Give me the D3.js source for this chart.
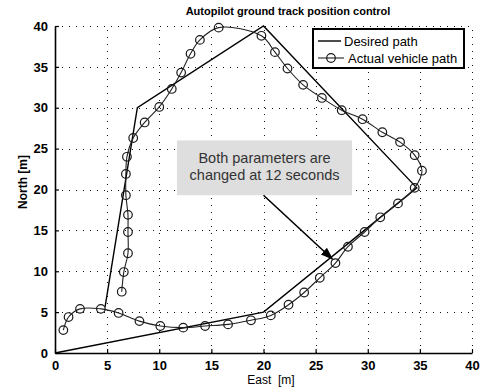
<!DOCTYPE html>
<html>
<head>
<meta charset="utf-8">
<script src="https://cdn.jsdelivr.net/npm/d3@7"></script>
<style>
  html, body { margin: 0; padding: 0; background: #fff; }
  svg { display: block; font-family: "Liberation Sans", Arial, sans-serif; }
</style>
</head>
<body>
<svg id="chart" width="491" height="388"></svg>
<script>
// ---- data ----
const titleText = "Autopilot ground track position control";
const xLabelText = "East  [m]";
const yLabelText = "North [m]";
const xTicks = [0, 5, 10, 15, 20, 25, 30, 35, 40];
const yTicks = [0, 5, 10, 15, 20, 25, 30, 35, 40];

const desiredEast  = [0, 20, 34.7, 20, 7.9, 4.8];
const desiredNorth = [0, 5, 20.2, 40, 30, 5.6];

const actualEast  = [0.8, 1.3, 2.4, 4.4, 6.1, 8.1, 10.1, 12.3, 14.4, 16.6, 18.8, 20.7, 22.4, 23.9, 25.4, 26.9,
                     28.1, 29.7, 31.2, 32.9, 34.5, 35.2, 34.5, 33.1, 31.4, 29.5, 27.5, 25.6, 23.8, 22.3, 21.1, 19.8,
                     15.7, 13.9, 13.0, 12.1, 11.2, 10.0, 8.6, 7.5, 6.9, 6.8, 6.8, 7.0, 7.0, 7.0, 6.6, 6.4];
const actualNorth = [2.8, 4.4, 5.4, 5.4, 4.9, 3.9, 3.3, 3.1, 3.3, 3.5, 4.0, 4.6, 5.9, 7.4, 9.2, 11.0,
                     13.0, 14.8, 16.6, 18.3, 20.2, 22.3, 24.2, 25.8, 27.0, 28.6, 29.7, 31.2, 32.8, 34.8, 36.8, 38.8,
                     39.8, 38.3, 36.6, 34.3, 32.3, 30.1, 28.2, 26.3, 24.0, 21.9, 19.3, 16.9, 14.8, 12.2, 9.9, 7.5];

const legendLabels = ["Desired path", "Actual vehicle path"];
const noteLines = ["Both parameters are", "changed at 12 seconds"];
const noteBox = [11.7, 28.5, 19.3, 26.0];   // east min, east max, north min, north max
const arrowFrom = [20.0, 19.3];
const arrowTo = [26.6, 11.5];

// ---- layout ----
const svg = d3.select("#chart");
const x = d3.scaleLinear().domain([0, 40]).range([55, 472]);
const y = d3.scaleLinear().domain([0, 40]).range([353, 26]);

// grid
const grid = svg.append("g").attr("stroke", "#111").attr("stroke-width", 1)
  .attr("stroke-dasharray", "1,6").attr("shape-rendering", "crispEdges");
grid.selectAll("line.v").data(xTicks.filter(d => d > 0)).join("line")
  .attr("x1", d => Math.round(x(d)) + 0.5).attr("x2", d => Math.round(x(d)) + 0.5)
  .attr("y1", y(0)).attr("y2", y(40));
grid.selectAll("line.h").data(yTicks.filter(d => d > 0)).join("line")
  .attr("y1", d => Math.round(y(d)) + 0.5).attr("y2", d => Math.round(y(d)) + 0.5)
  .attr("x1", x(0)).attr("x2", x(40));

// axes
const xAxis = d3.axisBottom(x).tickValues(xTicks).tickSizeInner(-4).tickSizeOuter(0).tickPadding(8);
const yAxis = d3.axisLeft(y).tickValues(yTicks).tickSizeInner(-4).tickSizeOuter(0).tickPadding(7);
const gx = svg.append("g").attr("transform", `translate(0,${y(0)})`).call(xAxis);
const gy = svg.append("g").attr("transform", `translate(${x(0)},0)`).call(yAxis);
[gx, gy].forEach(g => {
  g.select(".domain").attr("stroke", "#000").attr("stroke-width", 1.6);
  g.selectAll(".tick line").attr("stroke", "#000").attr("stroke-width", 1.2);
  g.selectAll(".tick text").attr("fill", "#000").attr("font-size", 13).attr("font-weight", "bold")
    .attr("font-family", "'Liberation Sans', Arial, sans-serif");
});

// desired path
const lineGen = d3.line().x(d => x(d[0])).y(d => y(d[1]));
const desired = desiredEast.map((e, i) => [e, desiredNorth[i]]);
svg.append("path").datum(desired).attr("d", lineGen)
  .attr("fill", "none").attr("stroke", "#000").attr("stroke-width", 1.4);

// actual path
const actual = actualEast.map((e, i) => [e, actualNorth[i]]);
svg.append("path").datum(actual).attr("d", d3.line().x(d => x(d[0])).y(d => y(d[1])).curve(d3.curveCatmullRom.alpha(0.5)))
  .attr("fill", "none").attr("stroke", "#222").attr("stroke-width", 1.1);
svg.append("g").selectAll("circle").data(actual).join("circle")
  .attr("cx", d => x(d[0])).attr("cy", d => y(d[1])).attr("r", 4.3)
  .attr("fill", "none").attr("stroke", "#1a1a1a").attr("stroke-width", 1.2);

// annotation box
svg.append("rect")
  .attr("x", x(noteBox[0])).attr("y", y(noteBox[3]))
  .attr("width", x(noteBox[1]) - x(noteBox[0])).attr("height", y(noteBox[2]) - y(noteBox[3]))
  .attr("fill", "#dedede");
svg.append("g").selectAll("text").data(noteLines).join("text")
  .attr("x", (x(noteBox[0]) + x(noteBox[1])) / 2)
  .attr("y", (d, i) => y(noteBox[3]) + 23 + i * 17)
  .attr("text-anchor", "middle").attr("font-size", 14.5).attr("fill", "#333")
  .text(d => d);

// arrow
const defs = svg.append("defs");
defs.append("marker").attr("id", "ah").attr("viewBox", "0 0 10 10").attr("refX", 9).attr("refY", 5)
  .attr("markerWidth", 8).attr("markerHeight", 8).attr("orient", "auto-start-reverse")
  .append("path").attr("d", "M0,1.5 L10,5 L0,8.5 Z").attr("fill", "#000");
svg.append("line")
  .attr("x1", x(arrowFrom[0])).attr("y1", y(arrowFrom[1]))
  .attr("x2", x(arrowTo[0])).attr("y2", y(arrowTo[1]))
  .attr("stroke", "#000").attr("stroke-width", 1.6).attr("marker-end", "url(#ah)");

// legend
const lg = svg.append("g");
lg.append("rect").attr("x", 313).attr("y", 29).attr("width", 151).attr("height", 39)
  .attr("fill", "#fff").attr("stroke", "#000").attr("stroke-width", 2);
lg.append("line").attr("x1", 318).attr("x2", 341).attr("y1", 41).attr("y2", 41)
  .attr("stroke", "#000").attr("stroke-width", 1.4);
lg.append("line").attr("x1", 318).attr("x2", 344).attr("y1", 58).attr("y2", 58)
  .attr("stroke", "#222").attr("stroke-width", 1.1);
lg.append("circle").attr("cx", 331).attr("cy", 58).attr("r", 4.3)
  .attr("fill", "none").attr("stroke", "#1a1a1a").attr("stroke-width", 1.2);
lg.selectAll("text").data(legendLabels).join("text")
  .attr("x", (d, i) => i === 0 ? 344 : 348)
  .attr("y", (d, i) => 46 + i * 17)
  .attr("font-size", 13).attr("fill", "#000")
  .text(d => d);

// title and labels
svg.append("text").attr("x", 288).attr("y", 15).attr("text-anchor", "middle")
  .attr("font-size", 11).attr("font-weight", "bold").text(titleText);
svg.append("text").attr("x", 271).attr("y", 384).attr("text-anchor", "middle")
  .attr("font-size", 12).text(xLabelText).style("white-space", "pre");
svg.append("text").attr("transform", "translate(27,182) rotate(-90)").attr("text-anchor", "middle")
  .attr("font-size", 12).attr("font-weight", "bold").text(yLabelText);
</script>
</body>
</html>
